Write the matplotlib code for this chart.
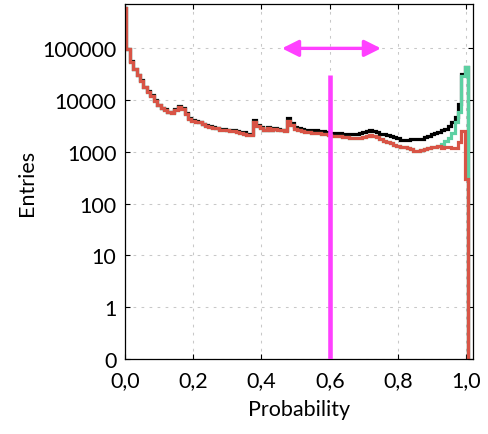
import matplotlib
matplotlib.use("Agg")
import matplotlib.pyplot as plt
import numpy as np
from matplotlib.patches import FancyArrowPatch

plt.rcParams["font.family"] = ["Lato", "DejaVu Sans"]

# histogram binning: 101 bins of 0.01 centred on 0.00 ... 1.00
BIN_LO = -0.005
BIN_W = 0.01
N_BINS = 101

# entries per bin
red_counts = [
    600000, 96000, 55000, 40000, 30500, 23500, 17600, 14500, 12100, 9700,
    8000, 7000, 6500, 5900, 5700, 6500, 7300, 6800, 5400, 4300,
    3950, 3800, 3700, 3400, 3150, 3050, 2950, 2850, 2700, 2650,
    2600, 2550, 2500, 2400, 2300, 2250, 2100, 2100, 3700, 3110,
    2900, 2600, 2950, 2600, 2750, 2650, 2600, 2550, 4000, 3250,
    2800, 2650, 2550, 2450, 2400, 2350, 2300, 2280, 2220, 2180,
    2120, 2050, 2020, 2000, 1950, 1920, 1880, 1850, 1850, 1880,
    1950, 2050, 2080, 2050, 1900, 1750, 1620, 1520, 1460, 1380,
    1320, 1260, 1230, 1200, 1120, 1060, 1040, 1100, 1160, 1200,
    1240, 1250, 1310, 1180, 1220, 1220, 1180, 1180, 1530, 2550,
    300,
]

black_counts = [
    610000, 97000, 56000, 40500, 31000, 24000, 18000, 14800, 12300, 9900,
    8200, 7200, 6800, 6000, 5800, 6700, 7700, 7000, 5700, 4500,
    4050, 3950, 3800, 3500, 3300, 3200, 3050, 2950, 2800, 2750,
    2700, 2650, 2650, 2550, 2450, 2400, 2250, 2200, 4150, 3250,
    3050, 2700, 3050, 2700, 2850, 2800, 2700, 2650, 4550, 3650,
    3000, 2950, 2750, 2700, 2650, 2650, 2600, 2500, 2480, 2400,
    2370, 2320, 2300, 2280, 2230, 2200, 2200, 2200, 2200, 2300,
    2380, 2500, 2600, 2480, 2400, 2250, 2200, 2100, 2050, 1920,
    1850, 1720, 1720, 1720, 1740, 1750, 1760, 1800, 1950, 2050,
    2250, 2350, 2450, 2600, 2750, 3100, 3700, 4700, 8500, 32000,
    44000,
]

# green lies under the red curve up to 0.92, only its tail is visible
green_tail = [1400, 1600, 1850, 2300, 3700, 6000, 29500, 44000]
green_counts = red_counts[:N_BINS - len(green_tail)] + green_tail

CUT = 0.6
CUT_TOP = 30000
ARROW_X = (0.46, 0.75)
ARROW_Y = 100000

x_ticks = [0.0, 0.2, 0.4, 0.6, 0.8, 1.0]
x_ticklabels = ["0,0", "0,2", "0,4", "0,6", "0,8", "1,0"]
y_ticks = [0.1, 1, 10, 100, 1000, 10000, 100000]
y_ticklabels = ["0", "1", "10", "100", "1000", "10000", "100000"]

RED = "#d85446"
GREEN = "#5dd0a2"
MAGENTA = "#ff40ff"

W, H = 488, 435
fig = plt.figure(figsize=(W / 100, H / 100), dpi=100)
ax = fig.add_axes([124.7 / W, 1 - 360 / H, (473.3 - 124.7) / W, (360 - 5.3) / H])

edges = BIN_LO + BIN_W * np.arange(N_BINS + 1)
for counts, col in [(black_counts, "black"), (green_counts, GREEN), (red_counts, RED)]:
    ax.stairs(counts, edges, baseline=1e-3, color=col, linewidth=2.3, joinstyle="miter")

ax.plot([CUT, CUT], [0.1, CUT_TOP], color=MAGENTA, linewidth=3.3, solid_capstyle="butt", zorder=5)
arrow = FancyArrowPatch(
    (ARROW_X[0], ARROW_Y), (ARROW_X[1], ARROW_Y),
    arrowstyle="<|-|>,head_length=1.0,head_width=0.5",
    mutation_scale=10, linewidth=2.4, color=MAGENTA, shrinkA=0, shrinkB=0, zorder=5,
)
ax.add_patch(arrow)

ax.set_yscale("log")
ax.set_xlim(0, 1.02)
ax.set_ylim(0.1, 7.1e5)
ax.set_xticks(x_ticks)
ax.set_xticklabels(x_ticklabels)
ax.set_yticks(y_ticks)
ax.set_yticklabels(y_ticklabels)
ax.minorticks_off()
ax.tick_params(direction="in", top=True, right=True, length=3.6, width=0.8,
               labelsize=15.5, pad=6)
ax.tick_params(axis="x", pad=8)
ax.grid(True, color="#c8c8c8", linestyle=(0, (2.6, 5.1)), linewidth=0.75)
ax.set_axisbelow(True)
for sp in ax.spines.values():
    sp.set_linewidth(0.9)

ax.set_xlabel("Probability", fontsize=15.5)
ax.set_ylabel("Entries", fontsize=15.5)
ax.xaxis.set_label_coords(0.5, -0.112)
ax.yaxis.set_label_coords(-0.252, 0.5)

fig.savefig("out.png", dpi=100)
